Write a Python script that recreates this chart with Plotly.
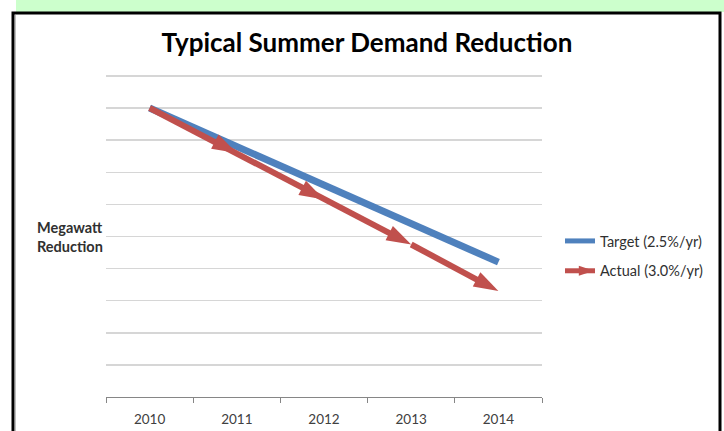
import plotly.graph_objects as go

years = ["2010", "2011", "2012", "2013", "2014"]
target = [9.0, 7.8, 6.6, 5.4, 4.2]
actual = [9.0, 7.6, 6.15, 4.75, 3.3]
series_names = ["Target (2.5%/yr)", "Actual (3.0%/yr)"]
title_text = "Typical Summer Demand Reduction"
y_title = "Megawatt<br>Reduction"

BLUE = "#4F81BD"
RED = "#C0504D"
FONT = "Lato"

fig = go.Figure()

fig.add_trace(go.Scatter(
    x=years, y=target, mode="lines", showlegend=False,
    line=dict(color=BLUE, width=7), hoverinfo="skip"))
fig.add_trace(go.Scatter(
    x=years, y=actual, mode="lines+markers", showlegend=False,
    line=dict(color=RED, width=6),
    marker=dict(symbol="arrow", angleref="previous", size=26, color=RED,
                line=dict(width=0)),
    hoverinfo="skip"))

# legend entries
fig.add_trace(go.Scatter(
    x=[None], y=[None], mode="lines", name=series_names[0],
    legendgroup="a", line=dict(color=BLUE, width=5)))
fig.add_trace(go.Scatter(
    x=[None], y=[None], mode="lines+markers", name=series_names[1],
    legendgroup="b", line=dict(color=RED, width=5),
    marker=dict(symbol="arrow", angle=90, size=16, standoff=14, color=RED,
                line=dict(width=0))))

W, H = 724, 431
L, R, T, B = 106, 182, 74, 34
pw, ph = W - L - R, H - T - B
YTOP = 10.06

def px(x):
    return (x - L) / pw

def py(y):
    return (H - B - y) / ph

shapes = [
    dict(type="rect", xref="paper", yref="paper",
         x0=px(16), x1=px(730), y0=py(12), y1=py(-5),
         fillcolor="#CCFFCC", line=dict(width=0), layer="below"),
    dict(type="rect", xref="paper", yref="paper",
         x0=px(13), x1=px(720), y0=py(445), y1=py(13),
         fillcolor="rgba(0,0,0,0)", line=dict(color="black", width=3)),
    dict(type="line", xref="paper", yref="paper",
         x0=px(15.5), x1=px(15.5), y0=py(445), y1=py(15),
         line=dict(color="#BFBFBF", width=1)),
]

fig.update_layout(
    width=W, height=H,
    margin=dict(l=L, r=R, t=T, b=B, autoexpand=False),
    paper_bgcolor="white", plot_bgcolor="white",
    font=dict(family=FONT, size=12, color="#404040"),
    title=dict(text="<b>" + title_text + "</b>", x=367 / W, xanchor="center",
               y=1 - 43 / H, yanchor="middle", yref="container",
               font=dict(family=FONT, size=26, color="black")),
    xaxis=dict(type="category", range=[-0.5, 4.5], showgrid=False,
               showline=True, linecolor="#868686", linewidth=1,
               ticks="outside", tickson="boundaries", ticklen=5,
               tickcolor="#868686", tickfont=dict(size=13.5, color="#404040"),
               ticklabelstandoff=10, automargin=False, fixedrange=True),
    yaxis=dict(range=[0, YTOP], tick0=0, dtick=1, showgrid=True, gridcolor="#D6D6D6",
               gridwidth=1.5, showticklabels=False, zeroline=False,
               showline=False, ticks="", automargin=False, fixedrange=True),
    legend=dict(x=px(560), xanchor="left", y=py(225), yanchor="top",
                traceorder="grouped", tracegroupgap=8,
                font=dict(size=14.5, color="#303030"),
                bgcolor="rgba(0,0,0,0)"),
    shapes=shapes,
    annotations=[dict(text="<b>" + y_title + "</b>", xref="paper", yref="paper",
                      x=px(35), xanchor="left", y=py(237), yanchor="middle",
                      align="left", showarrow=False,
                      font=dict(size=14.5, color="#303030"))],
)

fig.write_html(
    "out.html",
    config={"displayModeBar": False, "staticPlot": True},
    post_script="document.body.style.margin='0px';document.body.style.overflow='hidden';",
)
